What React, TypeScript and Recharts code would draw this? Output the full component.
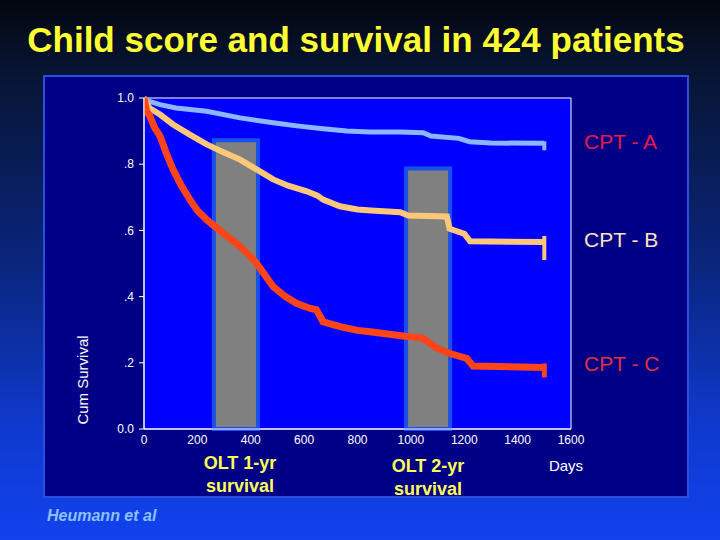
import { LineChart, Line, XAxis, YAxis, ReferenceArea } from "recharts"

const daysA = [0, 20, 60, 120, 235, 360, 484, 580, 671, 760, 847, 960, 1046, 1075, 1180, 1220, 1300, 1500]
const survA = [1.0, 0.99, 0.98, 0.97, 0.96, 0.94, 0.925, 0.915, 0.907, 0.9, 0.897, 0.897, 0.895, 0.885, 0.878, 0.868, 0.864, 0.863]

const daysB = [0, 20, 60, 109, 170, 235, 300, 360, 420, 484, 540, 610, 650, 671, 734, 800, 850, 960, 990, 1135, 1145, 1200, 1222, 1500]
const survB = [1.0, 0.97, 0.95, 0.92, 0.89, 0.86, 0.835, 0.814, 0.785, 0.754, 0.735, 0.718, 0.705, 0.693, 0.673, 0.663, 0.66, 0.655, 0.645, 0.642, 0.605, 0.59, 0.567, 0.565]

const daysC = [0, 10, 22, 40, 60, 85, 109, 140, 172, 200, 235, 296, 360, 400, 422, 440, 484, 530, 571, 620, 646, 671, 734, 800, 847, 971, 1046, 1060, 1098, 1147, 1210, 1233, 1500]
const survC = [1.0, 0.96, 0.945, 0.91, 0.885, 0.83, 0.784, 0.735, 0.693, 0.66, 0.632, 0.592, 0.552, 0.52, 0.5, 0.48, 0.43, 0.4, 0.38, 0.365, 0.36, 0.324, 0.309, 0.298, 0.294, 0.281, 0.274, 0.265, 0.244, 0.228, 0.213, 0.19, 0.186]

// OLT survival windows (days) and bar heights
const olt1 = { from: 262, to: 427, top: 0.872 }
const olt2 = { from: 982, to: 1147, top: 0.787 }

const xTicks = [0, 200, 400, 600, 800, 1000, 1200, 1400, 1600]
const yTicks = [0, 0.2, 0.4, 0.6, 0.8, 1.0]
const yTickLabels = ["0.0", ".2", ".4", ".6", ".8", "1.0"]

const toRows = (days: number[], surv: number[]) => days.map((d, i) => ({ day: d, s: surv[i] }))
const dataA = toRows(daysA, survA)
const dataB = toRows(daysB, survB)
const dataC = toRows(daysC, survC)

const font = "'Liberation Sans', Arial, sans-serif"

// censor tick drawn only at the last point of a curve
const endTick = (color: string, n: number, up: number, down: number, w: number) => (p: any) =>
  p.index === n - 1 ? (
    <line key={p.index} x1={p.cx} y1={p.cy - up} x2={p.cx} y2={p.cy + down} stroke={color} strokeWidth={w} />
  ) : (
    <g key={p.index} />
  )

const oltStyle = {
  position: "absolute" as const,
  width: 120,
  textAlign: "center" as const,
  color: "#ffff55",
  fontWeight: "bold",
  fontSize: 18,
  lineHeight: "23px",
}

export default function App() {
  const tickFmt = (v: number) => yTickLabels[yTicks.findIndex((t) => Math.abs(t - v) < 1e-6)] ?? String(v)
  return (
    <div
      style={{
        position: "absolute",
        left: 0,
        top: 0,
        width: 720,
        height: 540,
        overflow: "hidden",
        fontFamily: font,
        background: "linear-gradient(180deg, #03060f 0%, #071535 14%, #0a2680 50%, #0f3ad0 80%, #1142ee 100%)",
      }}
    >
      <div
        style={{
          position: "absolute",
          left: 0,
          top: 19,
          width: 712,
          textAlign: "center",
          color: "#ffff33",
          fontWeight: "bold",
          fontSize: 35,
          lineHeight: "42px",
        }}
      >
        Child score and survival in 424 patients
      </div>
      <div
        style={{
          position: "absolute",
          left: 43,
          top: 75,
          width: 642,
          height: 419,
          background: "#000086",
          border: "2px solid #2a4fe0",
        }}
      />
      <div style={{ position: "absolute", left: 0, top: 0 }}>
        <LineChart width={720} height={540} margin={{ top: 98, right: 149, bottom: 81, left: 104 }}>
          <XAxis
            type="number"
            dataKey="day"
            domain={[0, 1600]}
            ticks={xTicks}
            allowDataOverflow
            height={30}
            stroke="#ffffff"
            tickLine={false}
            tickSize={4}
            tickMargin={2}
            tick={{ fill: "#ffffff", fontSize: 12, fontFamily: font }}
          />
          <YAxis
            type="number"
            domain={[0, 1]}
            ticks={yTicks}
            width={40}
            stroke="#ffffff"
            tickSize={5}
            tickMargin={5}
            tickFormatter={tickFmt}
            tick={{ fill: "#ffffff", fontSize: 12, fontFamily: font }}
          />
          <ReferenceArea x1={0} x2={1600} y1={0} y2={1} fill="#0000ff" fillOpacity={1} stroke="#ffffff" strokeWidth={1} />
          <ReferenceArea x1={olt1.from} x2={olt1.to} y1={0} y2={olt1.top} fill="#808080" fillOpacity={1} stroke="#1a50ea" strokeWidth={4} />
          <ReferenceArea x1={olt2.from} x2={olt2.to} y1={0} y2={olt2.top} fill="#808080" fillOpacity={1} stroke="#1a50ea" strokeWidth={4} />
          <Line
            data={dataA}
            dataKey="s"
            type="linear"
            stroke="#8cb6ff"
            strokeWidth={5}
            dot={endTick("#8cb6ff", dataA.length, 2, 7, 4)}
            isAnimationActive={false}
          />
          <Line
            data={dataB}
            dataKey="s"
            type="linear"
            stroke="#ffc878"
            strokeWidth={6}
            dot={endTick("#ffc878", dataB.length, 6, 18, 4)}
            isAnimationActive={false}
          />
          <Line
            data={dataC}
            dataKey="s"
            type="linear"
            stroke="#ff4418"
            strokeWidth={7}
            dot={endTick("#ff4418", dataC.length, 4, 10, 5)}
            isAnimationActive={false}
          />
        </LineChart>
      </div>
      <div style={{ position: "absolute", left: 584, top: 130, color: "#e8194a", fontSize: 21 }}>CPT - A</div>
      <div style={{ position: "absolute", left: 584, top: 228, color: "#ffe2c4", fontSize: 21 }}>CPT - B</div>
      <div style={{ position: "absolute", left: 584, top: 352, color: "#e0303c", fontSize: 21 }}>CPT - C</div>
      <div
        style={{
          position: "absolute",
          left: 82,
          top: 380,
          color: "#ffffff",
          fontSize: 15,
          transform: "translate(-50%, -50%) rotate(-90deg)",
          whiteSpace: "nowrap",
        }}
      >
        Cum Survival
      </div>
      <div style={{ position: "absolute", left: 540, top: 457, width: 52, textAlign: "center", color: "#ffffff", fontSize: 15 }}>
        Days
      </div>
      <div style={{ ...oltStyle, left: 180, top: 452 }}>
        OLT 1-yr
        <br />
        survival
      </div>
      <div style={{ ...oltStyle, left: 368, top: 455 }}>
        OLT 2-yr
        <br />
        survival
      </div>
      <div style={{ position: "absolute", left: 47, top: 507, color: "#8ec0ff", fontSize: 16, fontWeight: "bold", fontStyle: "italic" }}>
        Heumann et al
      </div>
    </div>
  )
}
